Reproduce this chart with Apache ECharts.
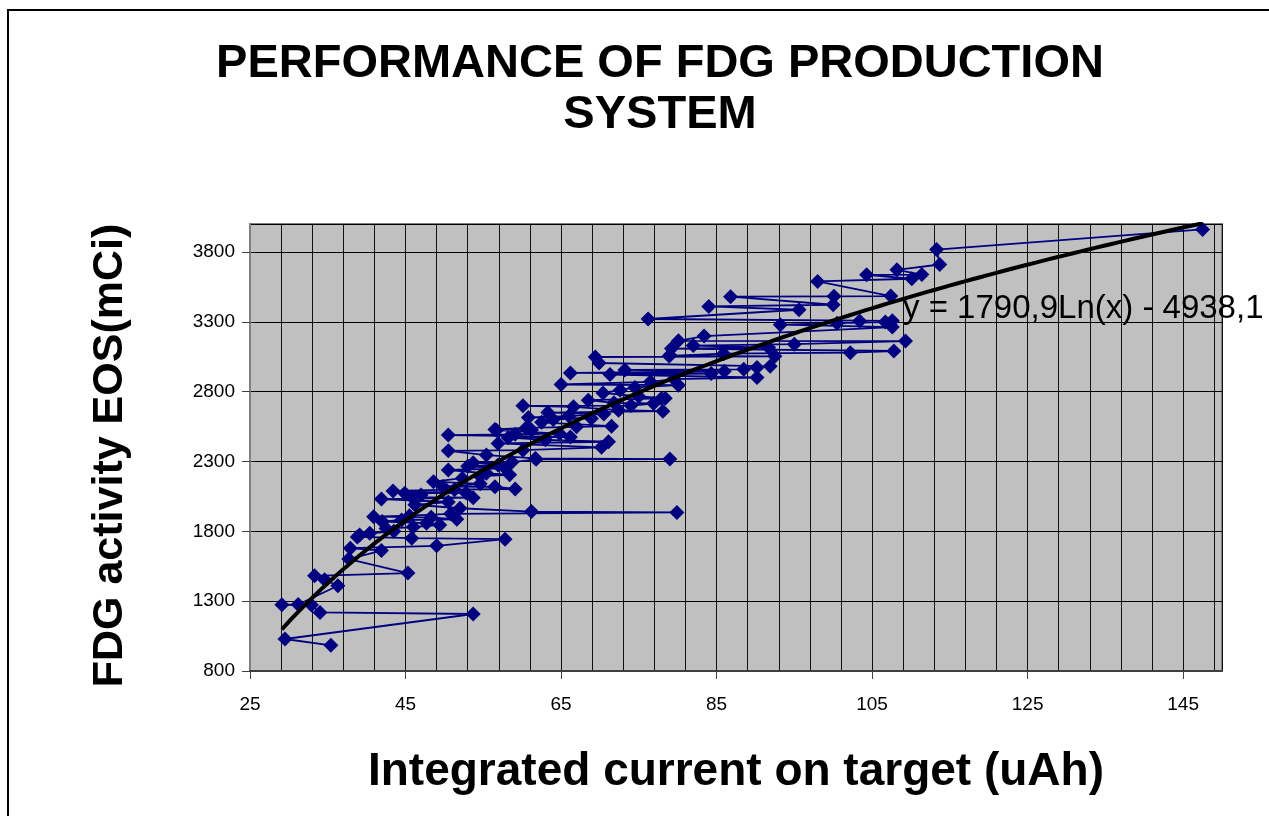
<!DOCTYPE html>
<html>
<head>
<meta charset="utf-8">
<script src="https://cdn.jsdelivr.net/npm/echarts@6/dist/echarts.min.js"></script>
<style>
  html, body { margin: 0; padding: 0; background: #ffffff; }
  #chart { width: 1269px; height: 816px; }
</style>
</head>
<body>
<div id="chart"></div>
<script>
// Production runs, ordered by activity (mCi) as in the source table
const currentUAh = [
  35.4, 29.5, 53.7, 34.0, 32.9, 29.1, 31.2, 36.3, 34.6, 33.3,
  45.3, 37.7, 41.9, 37.9, 49.0, 57.8, 45.8, 38.8, 39.1, 40.4,
  43.5, 42.5, 46.0, 49.4, 47.7, 42.0, 44.5, 51.6, 48.3, 40.9,
  45.5, 50.8, 79.9, 61.2, 52.0, 46.2, 50.5, 41.9, 53.7, 45.8,
  47.0, 44.9, 52.8, 43.4, 51.3, 59.1, 56.5, 49.8, 54.6, 48.6,
  52.3, 54.6, 58.4, 55.4, 50.5, 57.8, 53.0, 56.9, 53.7, 58.7,
  61.8, 79.0, 61.7, 55.4, 50.5, 60.1, 70.2, 56.9, 71.1, 63.0,
  58.2, 66.2, 50.5, 59.1, 64.8, 56.7, 61.2, 56.5, 60.5, 67.0,
  71.5, 62.5, 64.0, 68.9, 60.8, 66.0, 70.5, 63.3, 78.1, 72.4,
  66.6, 60.1, 74.0, 76.9, 71.8, 68.5, 77.9, 78.4, 75.0, 70.4,
  72.6, 74.5, 80.1, 65.0, 76.5, 79.5, 90.2, 71.3, 84.3, 66.2,
  86.0, 73.2, 88.5, 90.2, 91.9, 69.9, 69.4, 92.5, 78.9, 79.0,
  85.9, 102.2, 107.8, 79.2, 91.7, 82.0, 95.0, 109.3, 80.1, 83.4,
  107.6, 93.2, 100.5, 106.7, 103.4, 107.6, 76.2, 95.6, 84.0, 100.0,
  86.8, 100.1, 107.4, 98.0, 110.1, 104.3, 111.4, 108.2, 113.7, 113.3,
  147.5
];
const activityMCi = [
  984, 1029, 1208, 1219, 1272, 1274, 1276, 1410, 1453, 1481,
  1501, 1601, 1662, 1679, 1696, 1744, 1751, 1760, 1774, 1786,
  1800, 1820, 1830, 1846, 1858, 1870, 1881, 1886, 1900, 1905,
  1912, 1925, 1935, 1941, 1965, 1990, 2010, 2031, 2041, 2045,
  2060, 2072, 2075, 2089, 2098, 2103, 2119, 2120, 2140, 2155,
  2180, 2195, 2205, 2215, 2239, 2251, 2265, 2274, 2291, 2296,
  2315, 2317, 2322, 2346, 2376, 2381, 2401, 2429, 2441, 2455,
  2470, 2476, 2489, 2494, 2500, 2524, 2526, 2529, 2540, 2548,
  2553, 2580, 2601, 2608, 2615, 2625, 2640, 2650, 2660, 2667,
  2691, 2698, 2700, 2715, 2720, 2739, 2751, 2753, 2765, 2791,
  2810, 2830, 2846, 2851, 2870, 2890, 2901, 2922, 2929, 2934,
  2945, 2955, 2960, 2972, 2981, 3005, 3048, 3053, 3055, 3060,
  3072, 3079, 3091, 3108, 3115, 3130, 3140, 3162, 3164, 3198,
  3262, 3279, 3290, 3298, 3305, 3307, 3320, 3386, 3410, 3422,
  3480, 3482, 3484, 3589, 3608, 3636, 3638, 3672, 3710, 3817,
  3961
];

// Logarithmic trend line: y = a*ln(x) + b
const trendA = 1790.9;
const trendB = -4938.1;
const trendLabel = 'y = 1790,9Ln(x) - 4938,1';

const chartTitle = 'PERFORMANCE OF FDG PRODUCTION\nSYSTEM';
const xAxisTitle = 'Integrated current on target (uAh)';
const yAxisTitle = 'FDG activity EOS(mCi)';

const FONT = '"Liberation Sans", Arial, Helvetica, sans-serif';

const runs = currentUAh.map((x, i) => [x, activityMCi[i]]);

// Trend curve across the span of the measured currents
const xLo = Math.min(...currentUAh);
const xHi = Math.max(...currentUAh);
const trend = [];
for (let i = 0; i <= 120; i++) {
  const x = xLo + (xHi - xLo) * i / 120;
  trend.push([x, trendA * Math.log(x) + trendB]);
}

const chart = echarts.init(document.getElementById('chart'), null, { renderer: 'canvas' });

chart.setOption({
  animation: false,
  backgroundColor: '#ffffff',
  grid: {
    left: 250, right: 47, top: 224, bottom: 145,
    show: true,
    backgroundColor: '#C0C0C0',
    borderColor: '#808080',
    borderWidth: 2
  },
  xAxis: [
    {
      type: 'value',
      min: 25, max: 150, interval: 20,
      axisLine: { show: true, onZero: false, lineStyle: { color: '#404040', width: 2 } },
      axisTick: { show: true, length: 8, lineStyle: { color: '#404040', width: 1 } },
      axisLabel: { margin: 24, fontSize: 19, color: '#000', fontFamily: FONT, showMaxLabel: false },
      splitLine: { show: false },
      name: xAxisTitle,
      nameLocation: 'middle',
      nameGap: 78,
      nameTextStyle: { fontSize: 46, fontWeight: 'bold', color: '#000', fontFamily: FONT }
    },
    {
      // fine vertical grid every 4 uAh
      type: 'value',
      position: 'top',
      min: 25, max: 150, interval: 4,
      axisLine: { show: false },
      axisTick: { show: false },
      axisLabel: { show: false },
      splitLine: { show: true, lineStyle: { color: '#111', width: 1 } }
    }
  ],
  yAxis: {
    type: 'value',
    min: 800, max: 4000, interval: 500,
    axisLine: { show: true, onZero: false, lineStyle: { color: '#808080', width: 2 } },
    axisTick: { show: true, length: 8, lineStyle: { color: '#404040', width: 1 } },
    axisLabel: {
      margin: 15, fontSize: 19, color: '#000', fontFamily: FONT, showMaxLabel: false,
      formatter: (v) => String(v)
    },
    splitLine: { show: true, lineStyle: { color: '#000', width: 1 } },
    name: yAxisTitle,
    nameLocation: 'middle',
    nameRotate: 90,
    nameGap: 118,
    nameTextStyle: {
      fontSize: 43, fontWeight: 'bold', color: '#000', fontFamily: FONT,
      padding: [0, 16, 0, 0]
    }
  },
  series: [
    {
      name: 'FDG activity',
      type: 'line',
      data: runs,
      symbol: 'diamond',
      symbolSize: 15,
      showAllSymbol: true,
      itemStyle: { color: '#000080' },
      lineStyle: { color: '#000080', width: 1.8 },
      z: 2
    },
    {
      name: 'Log trend',
      type: 'line',
      data: trend,
      showSymbol: false,
      smooth: false,
      lineStyle: { color: '#000000', width: 4 },
      z: 3
    }
  ],
  graphic: [
    {
      type: 'rect',
      silent: true,
      z: 100,
      shape: { x: 8, y: 10, width: 1400, height: 1000 },
      style: { fill: 'none', stroke: '#000', lineWidth: 2 }
    },
    {
      type: 'text',
      silent: true,
      x: 660, y: 39,
      style: {
        text: chartTitle,
        font: 'bold 47px ' + FONT,
        fill: '#000',
        textAlign: 'center',
        lineHeight: 51
      }
    },
    {
      type: 'text',
      silent: true,
      z: 50,
      x: 903, y: 309,
      style: {
        text: trendLabel,
        font: '33px ' + FONT,
        fill: '#000',
        textAlign: 'left',
        textVerticalAlign: 'middle'
      }
    }
  ]
});
</script>
</body>
</html>
